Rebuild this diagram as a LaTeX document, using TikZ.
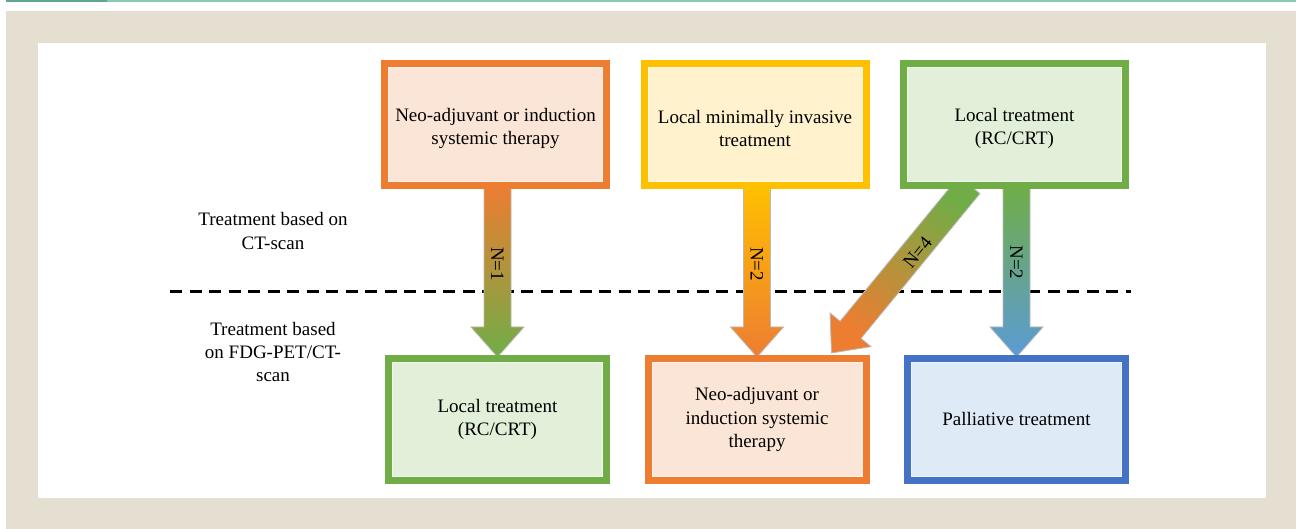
\documentclass[tikz,border=0pt]{standalone}
\usepackage{fontspec}
\setmainfont{Liberation Serif}
\usetikzlibrary{calc}
\definecolor{cOrange}{HTML}{ED7D31}
\definecolor{cOrangeF}{HTML}{FBE5D6}
\definecolor{cYellow}{HTML}{FFC000}
\definecolor{cYellowF}{HTML}{FFF2CC}
\definecolor{cGreen}{HTML}{70AD47}
\definecolor{cGreenF}{HTML}{E2F0D9}
\definecolor{cBlue}{HTML}{4472C4}
\definecolor{cBlueF}{HTML}{DEEBF7}
\definecolor{cSky}{HTML}{5B9BD5}
\definecolor{cBeige}{HTML}{E5DFD2}
\definecolor{cTealA}{HTML}{5BA88F}
\definecolor{cTealB}{HTML}{8CC7B0}
\pgfdeclarelayer{bg}
\pgfdeclarelayer{arr}
\pgfsetlayers{bg,arr,main}
\newcommand\myblockarrow[4]{%
  \path[blockarrow,#4] ($(#1)!13.5pt!90:(#3)$) -- ($(#2)!13.5pt!-90:(#1)$)
    -- ($(#2)!26.5pt!-90:(#1)$) -- (#3) -- ($(#2)!26.5pt!90:(#1)$)
    -- ($(#2)!13.5pt!90:(#1)$) -- ($(#1)!13.5pt!-90:(#3)$) -- cycle;}
\newcommand\mytopstrut{\rule{0pt}{21pt}}
\tikzset{
  txt/.style={font=\fontsize{19}{23.5}\selectfont, align=center, text=black},
  box/.style={txt, draw, line width=7pt, inner sep=2pt,
    path picture={\draw[white, opacity=0.55, line width=1.2pt]
      ($(path picture bounding box.south west)+(4.2,-4.2)$) rectangle
      ($(path picture bounding box.north east)+(-4.2,4.2)$);}},
  topbox/.style={box, minimum width=222pt, minimum height=122pt},
  botbox/.style={box, minimum width=218pt, minimum height=122pt},
  blockarrow/.style={draw=gray!55, line width=0.8pt},
  alabel/.style={font=\fontsize{19}{22}\selectfont, inner sep=0pt, text=black},
  sep/.style={line width=3pt, dash pattern=on 12pt off 7.5pt}
}
\begin{document}
\begin{tikzpicture}[x=1pt,y=-1pt]
\useasboundingbox (0,0) rectangle (1296,529);
\begin{pgfonlayer}{bg}
\fill[cBeige] (6,11) rectangle (1296,529);
\fill[white] (38,43) rectangle (1266,498);
\draw[cTealB, line width=2pt] (107,1) -- (1296,1);
\draw[cTealA, line width=2pt] (6,1) -- (107,1);
\coordinate (sepL) at (170,292);
\coordinate (sepR) at (1131,292);
\draw[sep] (sepL) -- (sepR);
\end{pgfonlayer}
% side labels
\node[txt] (lab1) at (273,231) {Treatment based on\\CT-scan};
\node[txt] (lab2) at (273,352) {Treatment based\\on FDG-PET/CT-\\scan};
% boxes
\node[topbox, draw=cOrange, fill=cOrangeF] (t1) at (495.5,124.5) {\mytopstrut Neo-adjuvant or induction\\systemic therapy};
\node[topbox, draw=cYellow, fill=cYellowF] (t2) at (755,124.5) {\mytopstrut Local minimally invasive\\treatment};
\node[topbox, draw=cGreen, fill=cGreenF] (t3) at (1014.5,124.5) {\mytopstrut Local treatment\\(RC/CRT)};
\node[botbox, draw=cGreen, fill=cGreenF] (b1) at (497.5,419.5) {Local treatment\\(RC/CRT)};
\node[botbox, draw=cOrange, fill=cOrangeF] (b2) at (757,419.5) {Neo-adjuvant or\\induction systemic\\therapy};
\node[botbox, draw=cBlue, fill=cBlueF] (b3) at (1016.5,419.5) {Palliative treatment};
% arrow coordinates
\coordinate (s1) at ($(b1.north |- t1.south)+(0,-4)$);
\coordinate (e1) at ($(b1.north)+(0,2)$);
\coordinate (h1) at ($(e1)!30pt!(s1)$);
\coordinate (s2) at ($(b2.north |- t2.south)+(0,-4)$);
\coordinate (e2) at ($(b2.north)+(0,2)$);
\coordinate (h2) at ($(e2)!30pt!(s2)$);
\coordinate (s3) at ($(t3.south)+(-45,-4)$);
\coordinate (e3) at ($(b2.north east)+(-38,-2)$);
\coordinate (h3) at ($(e3)!30pt!(s3)$);
\coordinate (s4) at ($(b3.north |- t3.south)+(0,-4)$);
\coordinate (e4) at ($(b3.north)+(0,2)$);
\coordinate (h4) at ($(e4)!30pt!(s4)$);
\begin{pgfonlayer}{arr}
\myblockarrow{s1}{h1}{e1}{shade, top color=cOrange, bottom color=cGreen}
\myblockarrow{s2}{h2}{e2}{shade, top color=cYellow, bottom color=cOrange}
\myblockarrow{s3}{h3}{e3}{shade, top color=cGreen, bottom color=cOrange, shading angle=-39}
\myblockarrow{s4}{h4}{e4}{shade, top color=cGreen, bottom color=cSky}
\end{pgfonlayer}
% arrow labels
\node[alabel, rotate=-90] (n1) at ($(s1)!0.46!(e1)$) {N=1};
\node[alabel, rotate=-90] (n2) at ($(s2)!0.46!(e2)$) {N=2};
\node[alabel, rotate=51] (n3) at ($(s3)!0.42!(e3)+(6,-3)$) {N=4};
\node[alabel, rotate=-90] (n4) at ($(s4)!0.45!(e4)$) {N=2};
\end{tikzpicture}
\end{document}
